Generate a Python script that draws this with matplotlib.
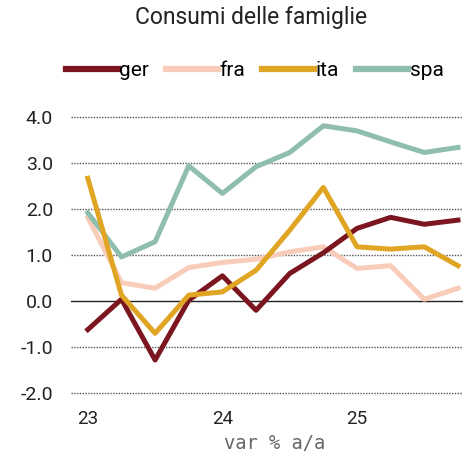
import matplotlib
matplotlib.use("Agg")
import matplotlib.pyplot as plt

quarters = list(range(12))
xtick_pos = [0, 4, 8]
xtick_labels = ["23", "24", "25"]
ger = [-0.62, 0.04, -1.28, 0.02, 0.55, -0.20, 0.60, 1.05, 1.58, 1.82, 1.67, 1.76]
fra = [1.82, 0.40, 0.28, 0.73, 0.84, 0.91, 1.07, 1.18, 0.71, 0.77, 0.04, 0.28]
ita = [2.67, 0.13, -0.70, 0.13, 0.20, 0.67, 1.54, 2.47, 1.18, 1.13, 1.18, 0.77]
spa = [1.92, 0.96, 1.29, 2.94, 2.34, 2.92, 3.23, 3.81, 3.70, 3.46, 3.23, 3.34]
yticks = [-2.0, -1.0, 0.0, 1.0, 2.0, 3.0, 4.0]

colors = {"ger": "#7b1620", "fra": "#f9ccb9", "ita": "#e0a523", "spa": "#8fbeae"}

plt.rcParams['font.family'] = ['Roboto', 'DejaVu Sans']
fig = plt.figure(figsize=(4.63, 4.63), dpi=100)
ax = fig.add_axes([0.1533, 0.136, 0.8467, 0.637])

for y in yticks:
    if y == 0:
        ax.axhline(0, color="#222222", lw=1.0, zorder=1)
    else:
        ax.axhline(y, color="#555555", lw=1.0, ls=(0, (1, 1)), zorder=1)

lw = 3.6
ax.plot(quarters, ger, color=colors["ger"], lw=lw, label="ger", zorder=3)
ax.plot(quarters, fra, color=colors["fra"], lw=lw, label="fra", zorder=2)
ax.plot(quarters, ita, color=colors["ita"], lw=lw, label="ita", zorder=3)
ax.plot(quarters, spa, color=colors["spa"], lw=lw, label="spa", zorder=2)

ax.set_xlim(-0.5, 11.15)
ax.set_ylim(-2.15, 4.26)
ax.set_yticks(yticks)
ax.set_yticklabels([f"{v:.1f}" for v in yticks], fontsize=14, color="#222222")
ax.set_xticks(xtick_pos)
ax.set_xticklabels(xtick_labels, fontsize=13.5, color="#222222")
ax.tick_params(axis="both", length=0)
ax.tick_params(axis="y", pad=13)
ax.tick_params(axis="x", pad=7)
for s in ax.spines.values():
    s.set_visible(False)

ax.set_xlabel("var % a/a", family="DejaVu Sans Mono", fontsize=13.5, color="#666666")
ax.xaxis.set_label_coords(0.52, -0.147)
ax.xaxis.label.set_va("center")

fig.text(0.543, 0.962, "Consumi delle famiglie", ha="center", va="center", fontsize=16.5, color="#222222")
leg = fig.legend(loc="center", bbox_to_anchor=(0.55, 0.848), ncol=4, frameon=False, fontsize=15,
           handlelength=2.5, handletextpad=0.08, columnspacing=0.8)
for h in leg.get_lines():
    h.set_linewidth(4.5)

fig.savefig("out.png", dpi=100)
